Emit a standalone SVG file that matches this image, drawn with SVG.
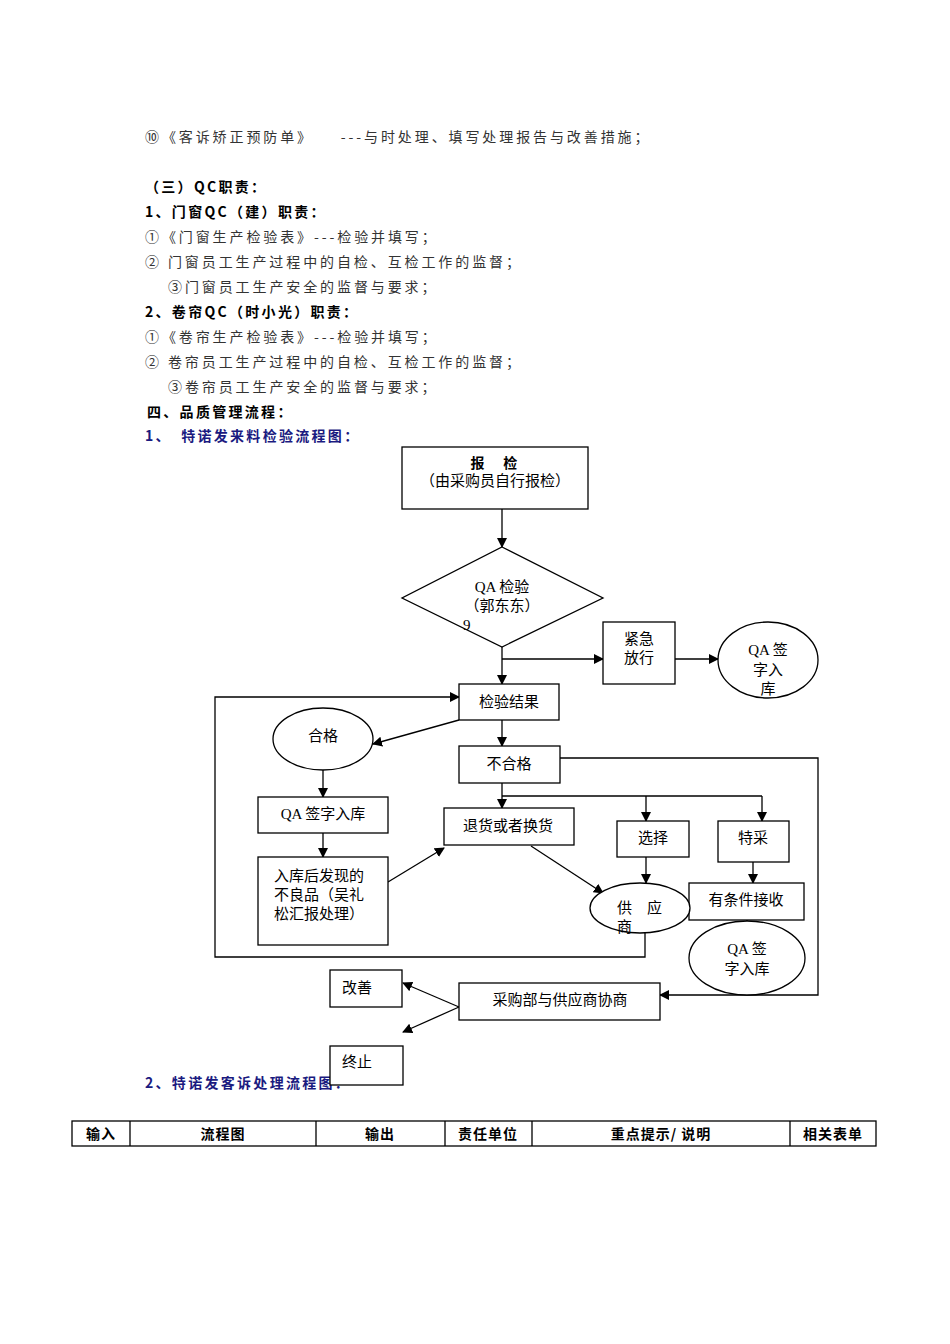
<svg xmlns="http://www.w3.org/2000/svg" width="950" height="1344" viewBox="0 0 950 1344">
<defs>
<marker id="a" markerWidth="10" markerHeight="10" refX="9" refY="5" orient="auto" markerUnits="userSpaceOnUse"><path d="M0,0 L10,5 L0,10 z" fill="#000"/></marker>
<style>
.t{font-family:"Noto Sans CJK SC","Liberation Serif",serif;font-size:14px;fill:#333;letter-spacing:2.9px}
.b{font-family:"Noto Sans CJK SC",sans-serif;font-size:14px;font-weight:bold;fill:#000;letter-spacing:2.3px}
.h{font-family:"Noto Sans CJK SC",sans-serif;font-size:14px;font-weight:bold;fill:#000;letter-spacing:1px}
.bl{fill:#1a1a80}
.n{fill:#fff;stroke:#000;stroke-width:1.3}
.l{font-family:"Liberation Serif","Noto Sans CJK SC",serif;font-size:15px;fill:#000}
.c{fill:none;stroke:#000;stroke-width:1.3}
.ca{fill:none;stroke:#000;stroke-width:1.3;marker-end:url(#a)}
</style>
</defs>
<rect width="950" height="1344" fill="#fff"/>
<g id="text">
<text class="t" x="145" y="142">⑩《客诉矫正预防单》　　---与时处理、填写处理报告与改善措施；</text>
<text class="b" x="145" y="192">（三）QC职责：</text>
<text class="b" x="145" y="217">1、门窗QC（建）职责：</text>
<text class="t" x="145" y="242">①《门窗生产检验表》---检验并填写；</text>
<text class="t" x="145" y="267">② 门窗员工生产过程中的自检、互检工作的监督；</text>
<text class="t" x="168" y="292">③门窗员工生产安全的监督与要求；</text>
<text class="b" x="145" y="317">2、卷帘QC（时小光）职责：</text>
<text class="t" x="145" y="342">①《卷帘生产检验表》---检验并填写；</text>
<text class="t" x="145" y="367">② 卷帘员工生产过程中的自检、互检工作的监督；</text>
<text class="t" x="168" y="392">③卷帘员工生产安全的监督与要求；</text>
<text class="b" x="147" y="417">四、品质管理流程：</text>
<text class="b bl" x="145" y="441">1、　特诺发来料检验流程图：</text>
<text class="b bl" x="145" y="1088">2、特诺发客诉处理流程图：</text>
</g>
<g id="connectors">
<path class="ca" d="M502,509 V547"/>
<path class="ca" d="M502,647 V684"/>
<path class="ca" d="M502,659 H603"/>
<path class="ca" d="M675,659 H718"/>
<path class="ca" d="M502,720 V746"/>
<path class="ca" d="M459,720 L373,744"/>
<path class="ca" d="M323,770 V797"/>
<path class="ca" d="M323,833 V857"/>
<path class="ca" d="M388,882 L444,848"/>
<path class="ca" d="M502,783 V808"/>
<path class="c" d="M502,796 H762"/>
<path class="ca" d="M646,796 V821"/>
<path class="ca" d="M762,796 V821"/>
<path class="ca" d="M531,846 L603,893"/>
<path class="ca" d="M646,857 V883"/>
<path class="ca" d="M753,862 V883"/>
<path class="ca" d="M747,920 V932"/>
<path class="ca" d="M645,933 V957 H215 V697 H459"/>
<path class="ca" d="M560,758 H818 V995 H660"/>
<path class="ca" d="M459,1007 L403,983"/>
<path class="ca" d="M459,1007 L403,1032"/>
</g>
<g id="n1"><rect class="n" x="402" y="447" width="186" height="62"/><text class="b" x="495" y="468" text-anchor="middle" font-size="13">报　检</text><text class="l" x="495" y="486" text-anchor="middle" font-size="13">（由采购员自行报检）</text></g>
<g id="n2"><polygon class="n" points="502,547 603,598 502,647 402,598"/><text class="l" x="502" y="592" text-anchor="middle" font-size="13">QA 检验</text><text class="l" x="502" y="611" text-anchor="middle" font-size="13">（郭东东）</text><text class="l" x="463" y="630">9</text></g>
<g id="n3"><rect class="n" x="603" y="622" width="72" height="62"/><text class="l" x="639" y="644" text-anchor="middle">紧急</text><text class="l" x="639" y="663" text-anchor="middle">放行</text></g>
<g id="n4"><ellipse class="n" cx="768" cy="660" rx="50" ry="38"/><text class="l" x="768" y="655" text-anchor="middle">QA 签</text><text class="l" x="768" y="675" text-anchor="middle">字入</text><text class="l" x="768" y="694" text-anchor="middle">库</text></g>
<g id="n5"><rect class="n" x="459" y="684" width="100" height="36"/><text class="l" x="509" y="707" text-anchor="middle">检验结果</text></g>
<g id="n6"><ellipse class="n" cx="323" cy="739" rx="50" ry="31"/><text class="l" x="323" y="741" text-anchor="middle">合格</text></g>
<g id="n7"><rect class="n" x="459" y="746" width="101" height="37"/><text class="l" x="509" y="769" text-anchor="middle">不合格</text></g>
<g id="n8"><rect class="n" x="258" y="797" width="130" height="36"/><text class="l" x="323" y="819" text-anchor="middle">QA 签字入库</text></g>
<g id="n9"><rect class="n" x="258" y="857" width="130" height="88"/><text class="l" x="274" y="881">入库后发现的</text><text class="l" x="274" y="900">不良品（吴礼</text><text class="l" x="274" y="919">松汇报处理）</text></g>
<g id="n10"><rect class="n" x="444" y="808" width="130" height="37"/><text class="l" x="508" y="831" text-anchor="middle">退货或者换货</text></g>
<g id="n11"><rect class="n" x="617" y="821" width="72" height="36"/><text class="l" x="653" y="843" text-anchor="middle">选择</text></g>
<g id="n12"><rect class="n" x="718" y="821" width="71" height="41"/><text class="l" x="753" y="843" text-anchor="middle">特采</text></g>
<g id="n13"><rect class="n" x="689" y="883" width="115" height="37"/><text class="l" x="746" y="905" text-anchor="middle">有条件接收</text></g>
<g id="n14"><ellipse class="n" cx="640" cy="908" rx="50" ry="25"/><text class="l" x="617" y="913">供　应</text><text class="l" x="617" y="932">商</text></g>
<g id="n15"><ellipse class="n" cx="747" cy="958" rx="58" ry="37"/><text class="l" x="747" y="954" text-anchor="middle">QA 签</text><text class="l" x="747" y="974" text-anchor="middle">字入库</text></g>
<g id="n16"><rect class="n" x="459" y="983" width="201" height="37"/><text class="l" x="560" y="1005" text-anchor="middle">采购部与供应商协商</text></g>
<g id="n17"><rect class="n" x="330" y="970" width="72" height="37"/><text class="l" x="342" y="993">改善</text></g>
<g id="n18"><rect class="n" x="330" y="1046" width="73" height="39"/><text class="l" x="342" y="1067">终止</text></g>
<g id="table">
<rect x="72" y="1121" width="804" height="25" fill="none" stroke="#000" stroke-width="1.3"/>
<path d="M130,1121 V1146 M316,1121 V1146 M445,1121 V1146 M532,1121 V1146 M790,1121 V1146" stroke="#000" stroke-width="1.3"/>
<text class="h" x="101" y="1139" text-anchor="middle">输入</text>
<text class="h" x="223" y="1139" text-anchor="middle">流程图</text>
<text class="h" x="380" y="1139" text-anchor="middle">输出</text>
<text class="h" x="488" y="1139" text-anchor="middle">责任单位</text>
<text class="h" x="661" y="1139" text-anchor="middle">重点提示/ 说明</text>
<text class="h" x="833" y="1139" text-anchor="middle">相关表单</text>
</g>
</svg>
